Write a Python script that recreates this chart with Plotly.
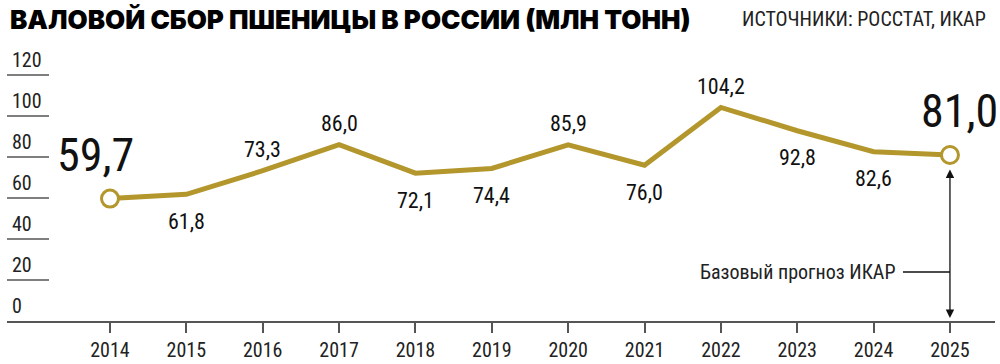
import plotly.graph_objects as go

years = [2014, 2015, 2016, 2017, 2018, 2019, 2020, 2021, 2022, 2023, 2024, 2025]
harvest = [59.7, 61.8, 73.3, 86.0, 72.1, 74.4, 85.9, 76.0, 104.2, 92.8, 82.6, 81.0]
value_labels = ["59,7", "61,8", "73,3", "86,0", "72,1", "74,4", "85,9", "76,0", "104,2", "92,8", "82,6", "81,0"]
y_ticks = [0, 20, 40, 60, 80, 100, 120]
y_tick_labels = ["0", "20", "40", "60", "80", "100", "120"]
title_text = "ВАЛОВОЙ СБОР ПШЕНИЦЫ В РОССИИ (МЛН ТОНН)"
source_text = "ИСТОЧНИКИ: РОССТАТ, ИКАР"
forecast_text = "Базовый прогноз ИКАР"

# style config
GOLD = "#b3962c"
NARROW = "Roboto Condensed, Liberation Sans Narrow, Roboto, sans-serif"
placement = ["big", "below", "above", "above", "below", "below", "above", "below", "above", "below", "below", "big"]

W, H = 1000, 364
ml, mr, mt, mb = 7, 5, 0, 43
PW = W - ml - mr
px_per_year = 76.36
x0 = years[0] - (110 - ml) / px_per_year
x1 = x0 + PW / px_per_year
px_per_unit = 2.05
y1 = (H - mt - mb) / px_per_unit

fig = go.Figure()
fig.add_trace(go.Scatter(
    x=years, y=harvest, mode="lines",
    line=dict(color=GOLD, width=5),
    hoverinfo="skip", showlegend=False,
))
fig.add_trace(go.Scatter(
    x=[years[0], years[-1]], y=[harvest[0], harvest[-1]], mode="markers",
    marker=dict(size=17, color="white", line=dict(color=GOLD, width=3)),
    hoverinfo="skip", showlegend=False,
))

annotations = []
for yr, v, lab, pos in zip(years, harvest, value_labels, placement):
    if pos == "big":
        first = yr == years[0]
        annotations.append(dict(
            x=yr, y=v, xref="x", yref="y", text=lab, showarrow=False,
            xanchor="center", yanchor="middle",
            xshift=-15 if first else 10, yshift=44,
            font=dict(family=NARROW, size=46, color="#111"),
        ))
    else:
        annotations.append(dict(
            x=yr, y=v, xref="x", yref="y", text=lab, showarrow=False,
            xanchor="center", yanchor="middle",
            yshift=21 if pos == "above" else -27,
            font=dict(family=NARROW, size=22, color="#111"),
        ))

for t, tl in zip(y_ticks, y_tick_labels):
    annotations.append(dict(
        x=3 / PW, y=t, xref="paper", yref="y", text=tl, showarrow=False,
        xanchor="left", yanchor="bottom", yshift=1,
        font=dict(family=NARROW, size=20, color="#222"),
    ))

shapes = []
for t in y_ticks:
    if t > 0:
        shapes.append(dict(type="line", xref="paper", yref="y",
                           x0=0, x1=42 / PW, y0=t, y1=t,
                           line=dict(color="#555", width=1.5)))

# title and source
annotations.append(dict(
    x=1 / PW, y=1, xref="paper", yref="paper", text=title_text, showarrow=False,
    xanchor="left", yanchor="middle", yshift=-19,
    font=dict(family="Inter, Roboto, sans-serif", size=26, color="#000", weight=900),
))
annotations.append(dict(
    x=1 + (mr - 12) / PW, y=1, xref="paper", yref="paper",
    text=source_text, showarrow=False, xanchor="right", yanchor="middle", yshift=-19,
    font=dict(family=NARROW, size=20, color="#222"),
))

# forecast arrow (double-headed) from marker to baseline
annotations.append(dict(
    x=years[-1], y=0, xref="x", yref="y",
    ax=years[-1], ay=harvest[-1], axref="x", ayref="y",
    text="", showarrow=True, arrowhead=2, startarrowhead=2, arrowside="end+start",
    arrowsize=1.3, arrowwidth=1.3, arrowcolor="#111", standoff=3, startstandoff=13,
))
fy = (H - mb - 272) / px_per_unit
shapes.append(dict(type="line", xref="x", yref="y",
                   x0=years[-1] - 47 / px_per_year, x1=years[-1], y0=fy, y1=fy,
                   line=dict(color="#111", width=1.3)))
annotations.append(dict(
    x=years[-1] - 53 / px_per_year, y=fy, xref="x", yref="y", text=forecast_text,
    showarrow=False, xanchor="right", yanchor="middle",
    font=dict(family=NARROW, size=20, color="#222"),
))

fig.update_layout(
    width=W, height=H,
    margin=dict(l=ml, r=mr, t=mt, b=mb),
    paper_bgcolor="white", plot_bgcolor="white",
    shapes=shapes, annotations=annotations,
    xaxis=dict(range=[x0, x1], tickmode="array", tickvals=years,
               ticktext=[str(y) for y in years],
               showgrid=False, zeroline=False, showline=True, linecolor="#555", linewidth=2,
               ticks="outside", ticklen=10, tickwidth=1.5, tickcolor="#555",
               tickfont=dict(family=NARROW, size=20, color="#222"), fixedrange=True),
    yaxis=dict(range=[0, y1], visible=False, fixedrange=True),
)

fig.write_html("out.html", config={"displayModeBar": False},
               post_script="document.body.style.margin='0px';document.body.style.overflow='hidden';")
